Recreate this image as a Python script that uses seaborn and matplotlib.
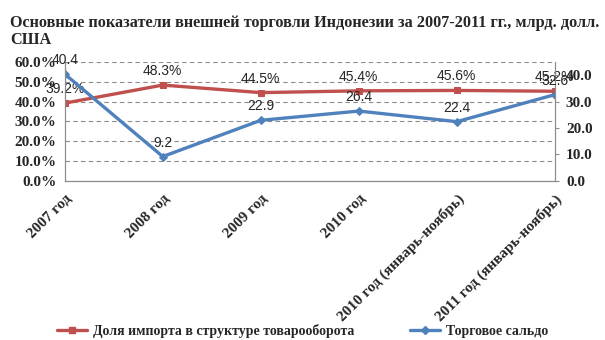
import matplotlib
matplotlib.use("Agg")
import matplotlib.pyplot as plt
import seaborn as sns
import pandas as pd
from matplotlib.ticker import FuncFormatter, MultipleLocator
from matplotlib.lines import Line2D

categories = ["2007 год", "2008 год", "2009 год", "2010 год",
              "2010 год (январь-ноябрь)", "2011 год (январь-ноябрь)"]
import_share = [39.2, 48.3, 44.5, 45.4, 45.6, 45.2]   # %
trade_balance = [40.4, 9.2, 22.9, 26.4, 22.4, 32.6]   # bn USD

RED = "#C0504D"
BLUE = "#4F81BD"
GRID = "#8C8C8C"

sns.set_style("white")
plt.rcParams["font.family"] = ["Liberation Serif", "DejaVu Serif"]

df = pd.DataFrame({"pos": range(len(categories)), "cat": categories,
                   "share": [v / 100 for v in import_share],
                   "balance": trade_balance})

fig = plt.figure(figsize=(6.05, 3.4), dpi=100)
ax = fig.add_axes([0.107, 0.468, 0.81, 0.35])
ax2 = ax.twinx()

sns.lineplot(data=df, x="pos", y="share", ax=ax, color=RED, lw=2.4,
             marker="s", markersize=5, markeredgecolor=RED, sort=False)
sns.lineplot(data=df, x="pos", y="balance", ax=ax2, color=BLUE, lw=2.4,
             marker="D", markersize=4, markeredgecolor=BLUE, sort=False)

ax.set_xlim(0, len(categories) - 1)
ax.set_ylim(0, 0.6)
ax.yaxis.set_major_locator(MultipleLocator(0.1))
ax.yaxis.set_major_formatter(FuncFormatter(lambda v, _: f"{v*100:.1f}%"))
ax2.set_ylim(0, 45)
ax2.set_yticks([0, 10, 20, 30, 40])
ax2.yaxis.set_major_formatter(FuncFormatter(lambda v, _: f"{v:.1f}"))

ax.grid(axis="y", color=GRID, ls=(0, (4, 3)), lw=0.8)
ax.set_axisbelow(True)
ax.set_xticks(df["pos"])
ax.set_xticklabels(categories, rotation=45, ha="right", rotation_mode="anchor",
                   fontsize=11, fontweight="bold")
for lab in ax.get_yticklabels():
    lab.set_fontweight("bold"); lab.set_fontsize(11)
for lab in ax2.get_yticklabels():
    lab.set_fontweight("bold"); lab.set_fontsize(11)
ax.set_xlabel(""); ax.set_ylabel(""); ax2.set_ylabel("")

for a in (ax, ax2):
    for s in a.spines.values():
        s.set_color(GRID)
        s.set_linewidth(0.8)
    a.spines["top"].set_visible(False)
ax.tick_params(axis="x", length=5, color=GRID, pad=3)
ax.tick_params(axis="y", length=0, pad=6)
ax2.tick_params(axis="y", length=3, color=GRID, pad=5)

lbl_font = {"family": ["Liberation Sans", "DejaVu Sans"], "size": 10}
for x, v in zip(df["pos"], import_share):
    ax.annotate(f"{v:.1f}%", (x, v / 100), xytext=(0, 5), textcoords="offset points",
                ha="center", va="bottom", **lbl_font)
for x, v in zip(df["pos"], trade_balance):
    ax2.annotate(f"{v:.1f}", (x, v), xytext=(0, 5), textcoords="offset points",
                 ha="center", va="bottom", **lbl_font)

fig.text(0.017, 0.955, "Основные показатели внешней торговли Индонезии за 2007-2011 гг., млрд. долл.\nСША",
         ha="left", va="top", fontsize=11.7, fontweight="bold", linespacing=1.05)

handles = [Line2D([], [], color=RED, lw=2.4, marker="s", markersize=5),
           Line2D([], [], color=BLUE, lw=2.4, marker="D", markersize=4)]
fig.legend(handles, ["Доля импорта в структуре товарооборота", "Торговое сальдо"],
           loc="center", bbox_to_anchor=(0.5, 0.027), ncol=2, frameon=False,
           prop={"weight": "bold", "size": 10}, handlelength=2.2, columnspacing=4,
           handletextpad=0.4)

fig.savefig("out.png", dpi=100)
